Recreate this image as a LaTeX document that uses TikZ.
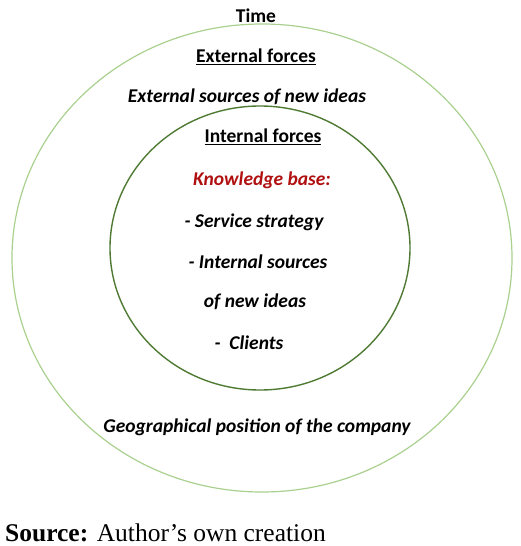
\documentclass[tikz,border=0pt]{standalone}
\usepackage{fontspec}
\setmainfont{Carlito}
\newfontfamily\srcfont{Liberation Serif}
\definecolor{outergreen}{HTML}{A9D08E}
\definecolor{innergreen}{HTML}{4E7A32}
\definecolor{kbred}{HTML}{B01010}
\tikzset{
	lbl/.style={font=\fontsize{19.5}{23}\selectfont\bfseries, inner sep=0pt},
	ilbl/.style={lbl, font=\fontsize{19.5}{23}\selectfont\bfseries\itshape},
}
\begin{document}
\begin{tikzpicture}[x=1pt, y=-1pt]
	\useasboundingbox (0, 0) rectangle (520, 546);
	% circles
	\draw[outergreen, line width=1.2pt](262, 258) ellipse [x radius=250, y radius=234];
	\draw[innergreen, line width=1.4pt](260, 248) ellipse [x radius=150, y radius=142];
	% outer ring
	\node[lbl] (time) at (256, 16) {Time};
	\node[lbl] (extforces) at (256, 57) {\underline{External forces}};
	\node[ilbl] (extsources) at (247, 97) {External sources of new ideas};
	\node[ilbl] (geo) at (257, 427) {Geographical position of the company};
	% inner circle
	\node[lbl] (intforces) at (263, 137) {\underline{Internal forces}};
	\node[ilbl, kbred] (kb) at (262, 180) {Knowledge base:};
	\node[ilbl] (service) at (254, 222) {- Service strategy};
	\node[ilbl] (intsources) at (258, 262) {- Internal sources};
	\node[ilbl] (newideas) at (255, 302) {of new ideas};
	\node[ilbl] (clients) at (249, 343) {-\ \ Clients};
	% source
	\node[anchor=west, inner sep=0pt, font=\srcfont\fontsize{25.5}{30}\selectfont] (src) at (5, 533) {\textbf{Source:} Author’s own creation};
\end{tikzpicture}
\end{document}
